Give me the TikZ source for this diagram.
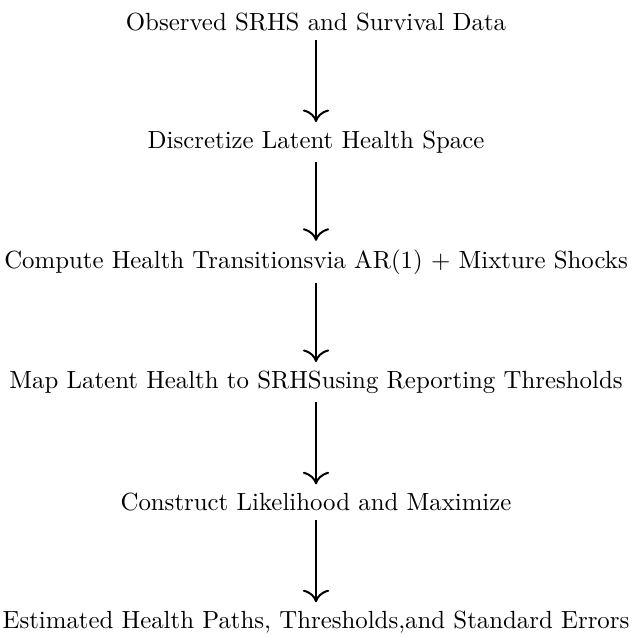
\documentclass[tikz,border=0pt]{standalone}
\usetikzlibrary{arrows.meta}

\begin{document}
\begin{tikzpicture}[
    x=1cm,
    y=1cm,
    >={To[scale=1.5]},
    stage/.style={rectangle, align=center, inner xsep=1pt},
    line/.style={->, thick}
]
\useasboundingbox (-4.475, 0.31) rectangle (4.475, -8.71);
\node[stage] (data) at (0, 0) {Observed SRHS and Survival Data};
\node[stage] (grid) at (0, -1.7) {Discretize Latent Health Space};
\node[stage] (trans) at (0, -3.4) {Compute Health Transitionsvia AR(1) + Mixture Shocks};
\node[stage] (report) at (0, -5.1) {Map Latent Health to SRHSusing Reporting Thresholds};
\node[stage] (lik) at (0, -6.8) {Construct Likelihood and Maximize};
\node[stage] (est) at (0, -8.5) {Estimated Health Paths, Thresholds,and Standard Errors};

\draw[line] (data) -- (grid);
\draw[line] (grid) -- (trans);
\draw[line] (trans) -- (report);
\draw[line] (report) -- (lik);
\draw[line] (lik) -- (est);
\end{tikzpicture}
\end{document}
